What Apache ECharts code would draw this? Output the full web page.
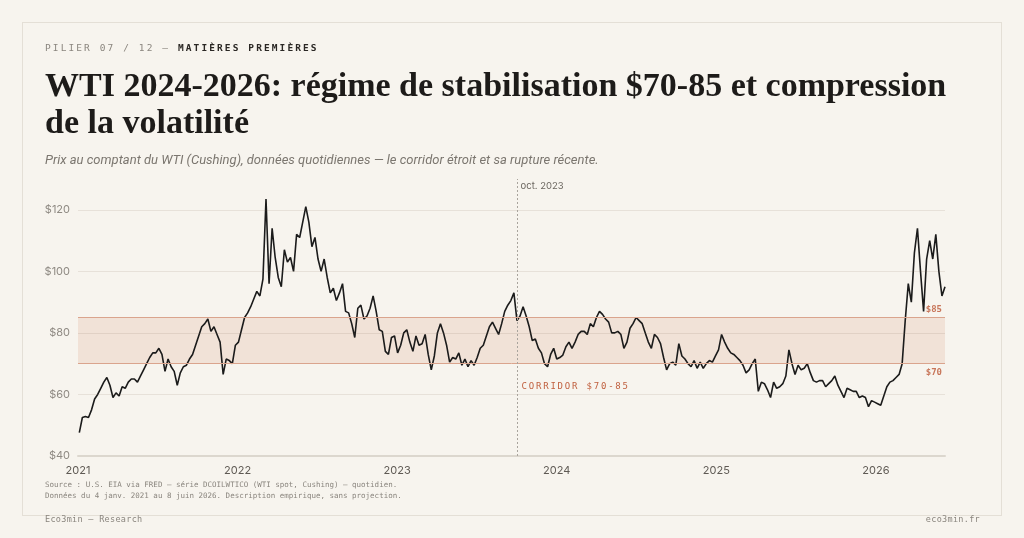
<!DOCTYPE html>
<html lang="fr">
<head>
<meta charset="utf-8">
<title>WTI 2024-2026</title>
<script src="https://cdn.jsdelivr.net/npm/echarts@6/dist/echarts.min.js"></script>
<style>
html, body { margin: 0; padding: 0; background: #f7f4ee; }
#page { position: relative; width: 1024px; height: 538px; overflow: hidden; }
#card { position: absolute; left: 22px; top: 22px; width: 978px; height: 492px; border: 1px solid #e4dfd6; }
#chart { position: absolute; left: 0; top: 0; width: 1024px; height: 538px; }
.txt { position: absolute; white-space: nowrap; }
#kicker { left: 45px; top: 42px; font: 9.5px/12px "DejaVu Sans Mono", monospace; letter-spacing: 2.1px; color: #8a857e; }
#kicker b { color: #2a2724; }
#title { left: 45px; top: 66px; font: bold 34px/37px "Liberation Serif", serif; color: #1d1b19; }
#subtitle { left: 45px; top: 152px; font: italic 13px/16px Roboto, "Noto Sans", sans-serif; color: #7b766f; }
#corridor { font: 9px/11px "DejaVu Sans Mono", monospace; letter-spacing: 1.8px; color: #c0603f; }
#source { left: 45px; top: 479px; font: 7.5px/11px "DejaVu Sans Mono", monospace; color: #8a857e; }
#foot-l { left: 45px; top: 513px; font: 8.5px/12px "DejaVu Sans Mono", monospace; letter-spacing: 0.3px; color: #8a857e; }
#foot-r { right: 44px; top: 513px; font: 8.5px/12px "DejaVu Sans Mono", monospace; letter-spacing: 0.3px; color: #8a857e; }
</style>
</head>
<body>
<div id="page">
  <div id="card"></div>
  <div id="chart"></div>
  <div class="txt" id="kicker">PILIER 07 / 12 — <b>MATIÈRES PREMIÈRES</b></div>
  <div class="txt" id="title">WTI 2024-2026: régime de stabilisation $70-85 et compression<br>de la volatilité</div>
  <div class="txt" id="subtitle">Prix au comptant du WTI (Cushing), données quotidiennes — le corridor étroit et sa rupture récente.</div>
  <div class="txt" id="corridor">CORRIDOR $70-85</div>
  <div class="txt" id="source">Source : U.S. EIA via FRED — série DCOILWTICO (WTI spot, Cushing) — quotidien.<br>Données du 4 janv. 2021 au 8 juin 2026. Description empirique, sans projection.</div>
  <div class="txt" id="foot-l">Eco3min — Research</div>
  <div class="txt" id="foot-r">eco3min.fr</div>
</div>
<script>
// weekly readings (Mondays), $/bbl
var firstWeek = '2021-01-04';
var v2021 = [47.6, 52.5, 52.8, 52.5, 55, 58.5, 60, 62, 64, 65.5, 63, 59, 60.5, 59.5, 62.5, 62, 64, 65, 65, 64, 66, 68, 70, 72, 73.5, 73.5, 75, 73, 67.5, 71.5, 69, 67.5, 63, 67, 69, 69.5, 71.5, 73, 76, 79, 82, 83, 84.5, 80.5, 82, 79.5, 77, 66.5, 71.5, 71, 70, 76];
var v2022 = [77, 81, 85, 86.5, 88.5, 91, 93.5, 92, 97.5, 123.5, 96, 114, 104.5, 98, 95, 107, 103, 104.5, 100, 112, 111, 116, 121, 116, 108, 111, 104, 100, 104, 98, 93, 94.5, 90.5, 93, 96, 87, 86.5, 83, 78.5, 88, 89, 84.5, 85.5, 88, 92, 87, 81, 80.5, 74, 73, 78.5, 79];
var v2023 = [73.5, 76, 80, 81, 77, 74, 79, 76, 76.5, 79.5, 73, 68, 72.5, 80, 83, 80, 76, 70.5, 72, 71.5, 73.5, 69.5, 71.5, 69, 71, 69.5, 72, 75, 76, 79, 82, 83.5, 81.5, 79.5, 83, 87, 89, 90.5, 93, 84, 85.5, 88.5, 85.5, 82, 77.5, 78, 75, 73.5, 70, 69, 73, 75];
var v2024 = [71.5, 72, 72.8, 75.5, 77, 75, 77, 79.5, 80.5, 80.5, 79.5, 83, 82, 85, 87, 86, 84.5, 83.5, 80, 80, 80.5, 79.5, 75, 77, 81.5, 83, 85, 84, 83, 80, 77, 75, 79.5, 78.5, 76.5, 72, 68, 70, 70.5, 69.5, 76.5, 72.5, 71.5, 70, 69, 71, 68.5, 70.5, 68.5, 70, 71, 70.5, 72.5];
var v2025 = [74.5, 79.5, 77, 75, 73.5, 73, 72, 71, 69.5, 67, 68, 70, 71.5, 61, 64, 63.5, 61.5, 59, 64, 62, 62.5, 63.5, 66, 74.5, 70, 66.5, 69.5, 68, 68.5, 70, 67, 64.5, 64, 64.5, 64.5, 62.5, 63.5, 64.5, 66, 63, 61, 59, 62, 61.5, 61, 61, 59, 59.5, 59, 56, 58, 57.5];
var v2026 = [57, 56.5, 59.5, 62.5, 64, 64.5, 65.5, 66.5, 70, 84, 96, 90, 106, 114, 100, 87, 104, 110, 104, 112, 100, 92, 95];

var corridor = [70, 85];
var markerDate = '2023-10-01';
var markerLabel = 'oct. 2023';
var gridValues = [60, 80, 100, 120];

function toYear(d) {
    var y = d.getUTCFullYear();
    var a = Date.UTC(y, 0, 1), b = Date.UTC(y + 1, 0, 1);
    return y + (d.getTime() - a) / (b - a);
}

var prices = [].concat(v2021, v2022, v2023, v2024, v2025, v2026);
var t0 = Date.parse(firstWeek + 'T00:00:00Z');
var points = prices.map(function (p, i) {
    return [toYear(new Date(t0 + i * 7 * 86400000)), p];
});
var xEnd = points[points.length - 1][0];
var markerX = toYear(new Date(markerDate + 'T00:00:00Z'));

var chart = echarts.init(document.getElementById('chart'));
var hidden = { opacity: 0 };

chart.setOption({
    animation: false,
    grid: { left: 78, right: 79, top: 179, bottom: 82 },
    xAxis: {
        type: 'value', min: 2021, max: xEnd, interval: 1,
        axisLine: { show: true, lineStyle: { color: '#dcd7ce', width: 2 } },
        axisTick: { show: false },
        splitLine: { show: false },
        axisLabel: {
            formatter: function (v) { return Number.isInteger(v) ? String(v) : ''; },
            color: '#5f5a54', fontFamily: 'Inter', fontSize: 11, margin: 9
        }
    },
    yAxis: {
        type: 'value', min: 40, max: 130, interval: 20,
        axisLine: { show: false },
        axisTick: { show: false },
        splitLine: { show: false },
        axisLabel: {
            formatter: function (v) { return v % 20 === 0 ? '$' + v : ''; },
            color: '#8f8a83', fontFamily: 'Inter', fontSize: 11, margin: 8
        }
    },
    series: [
        {
            name: 'band', type: 'line', data: points, symbol: 'none', silent: true, z: 1,
            lineStyle: hidden,
            markArea: {
                silent: true,
                itemStyle: { color: '#f1e2d7' },
                data: [[{ yAxis: corridor[0] }, { yAxis: corridor[1] }]]
            }
        },
        {
            name: 'guides', type: 'line', data: points, symbol: 'none', silent: true, z: 2,
            lineStyle: hidden,
            markLine: {
                silent: true, symbol: ['none', 'none'], animation: false,
                data: gridValues.map(function (v) {
                    return { yAxis: v, lineStyle: { color: 'rgba(120,100,80,0.13)', width: 1, type: 'solid' }, label: { show: false } };
                }).concat([
                    { yAxis: corridor[1], lineStyle: { color: '#daa48d', width: 1, type: 'solid' },
                      label: { show: true, position: 'insideEndTop', distance: [3, 3], formatter: '$' + corridor[1],
                               color: '#c8765a', fontFamily: 'DejaVu Sans Mono', fontWeight: 'bold', fontSize: 9 } },
                    { yAxis: corridor[0], lineStyle: { color: '#daa48d', width: 1, type: 'solid' },
                      label: { show: true, position: 'insideEndBottom', distance: [3, 4], formatter: '$' + corridor[0],
                               color: '#c8765a', fontFamily: 'DejaVu Sans Mono', fontWeight: 'bold', fontSize: 9 } },
                    { xAxis: markerX, lineStyle: { color: '#a9a49d', width: 1, type: [2, 2] }, label: { show: false } }
                ])
            },
            markPoint: {
                silent: true, symbol: 'circle', symbolSize: 0,
                data: [{
                    coord: [markerX, 130],
                    label: { show: true, formatter: markerLabel, position: 'right', distance: 4, offset: [0, 7],
                             color: '#6b665f', fontFamily: 'Inter', fontSize: 9.5 }
                }]
            }
        },
        {
            name: 'WTI', type: 'line', data: points, symbol: 'none', z: 3,
            lineStyle: { color: '#1b1b1b', width: 1.6 }
        }
    ]
});

// corridor caption placed from the chart's own scales
var p = chart.convertToPixel({ gridIndex: 0 }, [markerX, corridor[0]]);
var cap = document.getElementById('corridor');
cap.style.left = (p[0] + 5) + 'px';
cap.style.top = (p[1] + 17) + 'px';
</script>
</body>
</html>
